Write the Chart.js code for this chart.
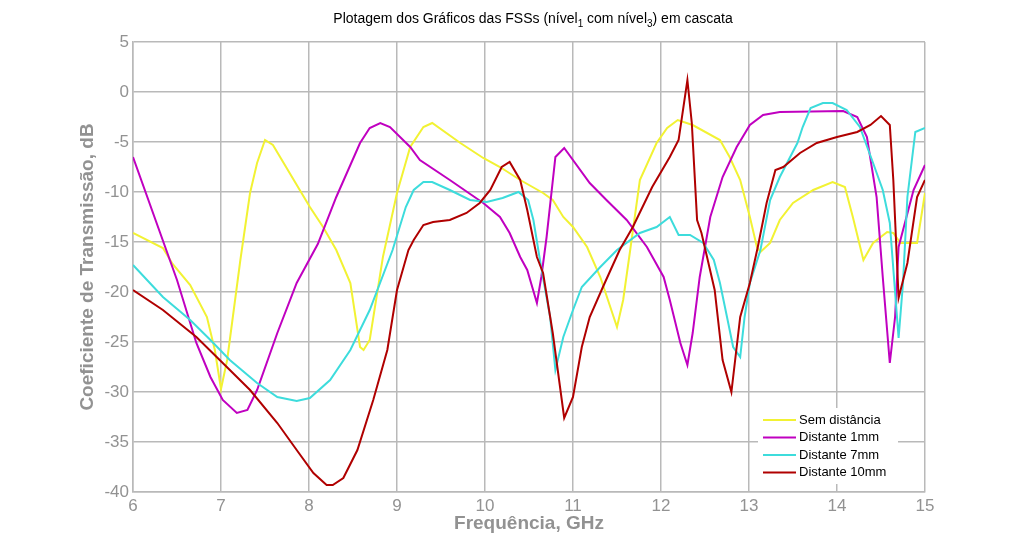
<!DOCTYPE html>
<html>
<head>
<meta charset="utf-8">
<script src="https://cdn.jsdelivr.net/npm/chart.js@4.4.1/dist/chart.umd.min.js"></script>
<style>
  html, body { margin: 0; padding: 0; background: #fff; }
  #wrap { width: 1023px; height: 552px; }
</style>
</head>
<body>
<div id="wrap"><canvas id="fssChart" width="1023" height="552"></canvas></div>
<script>
// ---------------------------Data------------------------------------------------
const yTicks = [-40, -35, -30, -25, -20, -15, -10, -5, 0, 5];
const xTicks = [6, 7, 8, 9, 10, 11, 12, 13, 14, 15];

const freqSem = [6.0, 6.34, 6.45, 6.65, 6.84, 6.93, 7.0, 7.07, 7.22, 7.33, 7.41, 7.5, 7.59, 8.01, 8.16, 8.31, 8.47, 8.58, 8.62, 8.69, 8.84, 9.0, 9.15, 9.3, 9.4, 9.72, 9.98, 10.17, 10.4, 10.66, 10.77, 10.89, 11.0, 11.16, 11.31, 11.5, 11.57, 11.65, 11.76, 11.95, 12.07, 12.19, 12.36, 12.67, 12.78, 12.9, 13.01, 13.09, 13.13, 13.24, 13.35, 13.5, 13.73, 13.95, 14.09, 14.18, 14.3, 14.41, 14.57, 14.64, 14.72, 14.91, 15.0];
const dbSem = [-14.1, -15.6, -17.2, -19.3, -22.5, -25.8, -29.7, -26.8, -16.8, -10.1, -7.1, -4.8, -5.3, -11.5, -13.5, -15.8, -19.1, -25.5, -25.8, -24.8, -16.5, -10.1, -5.5, -3.5, -3.1, -5.1, -6.6, -7.5, -8.8, -10.1, -10.8, -12.5, -13.5, -15.5, -18.5, -23.5, -20.8, -15.8, -8.8, -5.1, -3.6, -2.8, -3.3, -4.8, -6.5, -8.8, -12.5, -15.5, -16.0, -15.1, -12.8, -11.1, -9.8, -9.0, -9.5, -12.5, -16.8, -15.1, -14.0, -14.1, -15.1, -15.1, -10.1];

const freq1mm = [6.0, 6.5, 6.72, 6.88, 7.02, 7.18, 7.3, 7.41, 7.64, 7.86, 8.1, 8.31, 8.58, 8.69, 8.81, 8.92, 9.15, 9.26, 9.6, 9.98, 10.17, 10.28, 10.4, 10.48, 10.59, 10.64, 10.7, 10.8, 10.9, 11.19, 11.38, 11.61, 11.84, 12.03, 12.1, 12.22, 12.3, 12.36, 12.44, 12.56, 12.7, 12.86, 13.01, 13.16, 13.35, 14.07, 14.23, 14.34, 14.45, 14.52, 14.6, 14.66, 14.7, 14.87, 15.0];
const db1mm = [-6.5, -18.8, -25.1, -28.5, -30.8, -32.1, -31.8, -29.8, -24.1, -19.1, -15.2, -10.5, -5.1, -3.6, -3.1, -3.5, -5.5, -6.8, -8.8, -11.1, -12.5, -14.1, -16.5, -17.8, -21.1, -18.5, -14.5, -6.5, -5.6, -9.1, -10.8, -12.8, -15.5, -18.5, -20.8, -25.1, -27.3, -24.1, -18.5, -12.5, -8.5, -5.5, -3.3, -2.3, -2.0, -1.9, -2.5, -4.5, -10.5, -18.5, -27.1, -22.5, -15.5, -9.8, -7.3];

const freq7mm = [6.0, 6.34, 6.65, 6.88, 7.1, 7.41, 7.64, 7.86, 8.01, 8.24, 8.47, 8.69, 8.95, 9.1, 9.19, 9.3, 9.4, 9.6, 9.83, 10.02, 10.2, 10.38, 10.49, 10.55, 10.63, 10.74, 10.8, 10.89, 11.0, 11.1, 11.31, 11.5, 11.76, 11.95, 12.1, 12.2, 12.33, 12.48, 12.6, 12.67, 12.75, 12.82, 12.9, 12.95, 13.01, 13.13, 13.24, 13.35, 13.55, 13.61, 13.7, 13.84, 13.95, 14.11, 14.26, 14.41, 14.52, 14.6, 14.7, 14.75, 14.8, 14.89, 15.0];
const db7mm = [-17.3, -20.5, -22.8, -24.8, -26.8, -29.1, -30.5, -30.9, -30.6, -28.8, -25.8, -21.8, -15.8, -11.5, -9.8, -9.0, -9.0, -9.8, -10.8, -11.0, -10.6, -10.0, -10.8, -12.8, -17.1, -22.5, -27.8, -24.5, -21.8, -19.5, -17.5, -15.8, -14.1, -13.5, -12.5, -14.3, -14.3, -15.1, -16.8, -19.1, -22.5, -25.5, -26.5, -22.5, -19.1, -15.8, -10.8, -8.5, -5.1, -3.5, -1.6, -1.1, -1.1, -1.8, -3.5, -7.1, -9.8, -13.1, -24.6, -19.1, -10.5, -4.0, -3.6];

const freq10mm = [6.0, 6.34, 6.72, 7.02, 7.33, 7.64, 7.86, 8.05, 8.2, 8.27, 8.39, 8.55, 8.73, 8.89, 9.0, 9.13, 9.19, 9.3, 9.41, 9.6, 9.79, 9.94, 10.06, 10.19, 10.28, 10.4, 10.48, 10.59, 10.66, 10.77, 10.9, 11.0, 11.1, 11.19, 11.34, 11.53, 11.68, 11.9, 12.1, 12.2, 12.3, 12.35, 12.41, 12.46, 12.61, 12.7, 12.8, 12.9, 13.01, 13.1, 13.2, 13.3, 13.39, 13.58, 13.77, 14.0, 14.23, 14.38, 14.5, 14.6, 14.64, 14.7, 14.8, 14.91, 15.0];
const db10mm = [-19.8, -21.8, -24.5, -27.1, -29.8, -33.1, -35.8, -38.1, -39.3, -39.3, -38.6, -35.8, -30.8, -25.8, -19.8, -15.8, -14.8, -13.3, -13.0, -12.8, -12.1, -11.1, -9.8, -7.5, -7.0, -8.8, -11.8, -16.5, -18.1, -24.1, -32.6, -30.5, -25.5, -22.5, -19.5, -15.8, -13.5, -9.5, -6.5, -4.8, 1.2, -3.1, -12.8, -14.1, -19.8, -26.8, -30.0, -22.5, -19.1, -15.5, -11.1, -7.8, -7.5, -6.1, -5.1, -4.5, -4.0, -3.3, -2.4, -3.3, -8.8, -20.6, -17.1, -10.5, -8.8];
// ----------------------------------------------------------------------------------------------

const toPoints = (xs, ys) => xs.map((x, i) => ({ x: x, y: ys[i] }));

const FONT = "'Liberation Sans', Arial, sans-serif";
const GRAY = "#929292";
const GRID = "#b9b9b9";

// Title with subscripts (nível1 / nível3)
const titlePlugin = {
  id: "subTitle",
  afterDraw(chart) {
    const ctx = chart.ctx;
    const parts = [
      ["Plotagem dos Gráficos das FSSs (nível", false],
      ["1", true],
      [" com nível", false],
      ["3", true],
      [") em cascata", false],
    ];
    ctx.save();
    ctx.fillStyle = "#000";
    ctx.textBaseline = "alphabetic";
    const big = "14px " + FONT, small = "10px " + FONT;
    let total = 0;
    parts.forEach(p => { ctx.font = p[1] ? small : big; total += ctx.measureText(p[0]).width; });
    let x = 533 - total / 2;
    const y = 23;
    parts.forEach(p => {
      ctx.font = p[1] ? small : big;
      ctx.fillText(p[0], x, p[1] ? y + 4 : y);
      x += ctx.measureText(p[0]).width;
    });
    ctx.restore();
  },
};

// Legend inside the lower right corner of the plot
const innerLegend = {
  id: "innerLegend",
  afterDatasetsDraw(chart) {
    const ctx = chart.ctx;
    const area = chart.chartArea;
    const boxL = area.right - 167, boxT = area.bottom - 84;
    ctx.save();
    ctx.fillStyle = "#fff";
    ctx.fillRect(boxL, boxT, 140, 76);
    ctx.font = "13px " + FONT;
    ctx.textBaseline = "middle";
    chart.data.datasets.forEach((ds, i) => {
      const y = boxT + 12 + i * 17.5;
      ctx.strokeStyle = ds.borderColor;
      ctx.lineWidth = 2;
      ctx.beginPath();
      ctx.moveTo(boxL + 5, y);
      ctx.lineTo(boxL + 38, y);
      ctx.stroke();
      ctx.fillStyle = "#000";
      ctx.fillText(ds.label, boxL + 41, y);
    });
    ctx.restore();
  },
};

const ctx = document.getElementById("fssChart").getContext("2d");
new Chart(ctx, {
  type: "line",
  data: {
    datasets: [
      { label: "Sem distância", data: toPoints(freqSem, dbSem), borderColor: "#f2f233", order: 4 },
      { label: "Distante 1mm", data: toPoints(freq1mm, db1mm), borderColor: "#c000c0", order: 3 },
      { label: "Distante 7mm", data: toPoints(freq7mm, db7mm), borderColor: "#3ddcdc", order: 2 },
      { label: "Distante 10mm", data: toPoints(freq10mm, db10mm), borderColor: "#b00000", order: 1 },
    ],
  },
  options: {
    responsive: false,
    animation: false,
    devicePixelRatio: 1,
    layout: { padding: { top: 42, right: 98, left: 0, bottom: 0 } },
    elements: {
      line: { borderWidth: 2, tension: 0, fill: false },
      point: { radius: 0 },
    },
    plugins: {
      legend: { display: false },
      tooltip: { enabled: false },
      title: { display: false },
    },
    scales: {
      x: {
        type: "linear",
        min: 6,
        max: 15,
        afterFit: (s) => { s.height = 60; },
        afterBuildTicks: (s) => { s.ticks = xTicks.map(v => ({ value: v })); },
        grid: { color: GRID, lineWidth: 1.5, drawTicks: false },
        border: { color: GRID, width: 1.5 },
        ticks: { color: GRAY, font: { family: FONT, size: 17 }, padding: 4, maxRotation: 0 },
        title: {
          display: true,
          text: "Frequência, GHz",
          color: GRAY,
          font: { family: FONT, size: 19, weight: "bold" },
          padding: { top: 0, bottom: 17 },
        },
      },
      y: {
        min: -40,
        max: 5,
        afterFit: (s) => { s.width = 133; },
        afterBuildTicks: (s) => { s.ticks = yTicks.map(v => ({ value: v })); },
        grid: { color: GRID, lineWidth: 1.5, drawTicks: false },
        border: { color: GRID, width: 1.5 },
        ticks: { color: GRAY, font: { family: FONT, size: 17 }, padding: 4 },
        title: {
          display: true,
          text: "Coeficiente de Transmissão, dB",
          color: GRAY,
          font: { family: FONT, size: 19, weight: "bold" },
          padding: { top: 76, bottom: 0 },
        },
      },
    },
  },
  plugins: [titlePlugin, innerLegend],
});
</script>
</body>
</html>
